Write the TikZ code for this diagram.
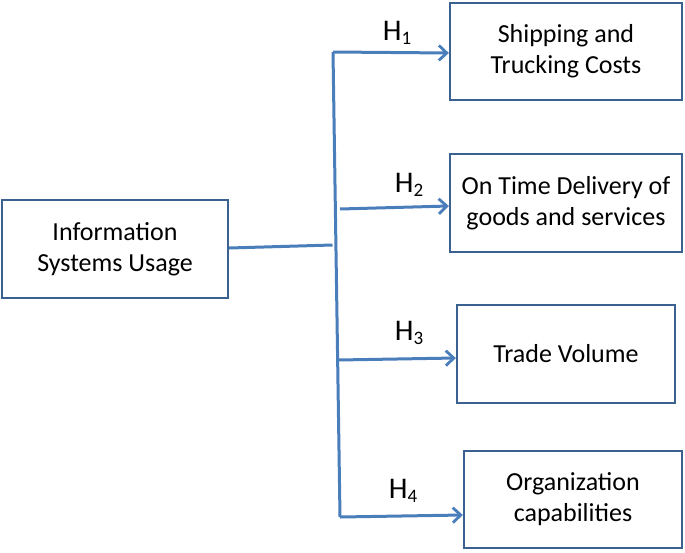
\documentclass[tikz,border=0pt]{standalone}
\usepackage{fontspec}
\setmainfont{Carlito}
\usetikzlibrary{arrows.meta}
\definecolor{boxblue}{HTML}{3A6190}
\definecolor{linkblue}{HTML}{4A7EBB}
\tikzset{
  box/.style={draw=boxblue, line width=2.3pt, fill=white, inner sep=0pt, align=center,
    font=\fontsize{26}{31}\selectfont},
  link/.style={draw=linkblue, line width=3pt},
  arr/.style={link, -{Straight Barb[length=8pt,width=15pt,line width=2.8pt]}},
  hlab/.style={font=\fontsize{30}{32}\selectfont, inner sep=0pt}
}
\newcommand{\hyp}[1]{H\raisebox{-0.3ex}{\fontsize{19}{19}\selectfont #1}}
\begin{document}
\begin{tikzpicture}[x=1pt,y=-1pt]
\useasboundingbox (0,0) rectangle (685,552);
\node[box, minimum width=226pt, minimum height=98pt] (isu) at (115,249) {Information\\Systems Usage};
\node[box, minimum width=232pt, minimum height=97pt] (b1) at (566,51.5) {Shipping and\\Trucking Costs};
\node[box, minimum width=232pt, minimum height=98pt] (b2) at (566,203) {On Time Delivery of\\goods and services};
\node[box, minimum width=218pt, minimum height=98pt] (b3) at (566,354) {Trade Volume};
\node[box, minimum width=218pt, minimum height=97pt] (b4) at (573,499.5) {Organization\\capabilities};
\coordinate (top) at (333,52);
\coordinate (bot) at (340,517);
\coordinate (join) at (332.5,245);
\coordinate (s2) at (340,209);
\coordinate (s3) at (338,360);
\draw[link] (isu.east |- 0,248) -- (join);
\draw[link] (bot) -- (top);
\draw[arr] (top) -- (b1.west |- 0,53);
\draw[arr] (s2) -- (b2.west |- 0,206);
\draw[arr] (s3) -- (b3.west |- 0,358);
\draw[arr] (bot) -- (b4.west |- 0,515);
\node[hlab] (h1) at (397,33) {\hyp{1}};
\node[hlab] (h2) at (409,185) {\hyp{2}};
\node[hlab] (h3) at (409,333) {\hyp{3}};
\node[hlab] (h4) at (403,491) {\hyp{4}};
\end{tikzpicture}
\end{document}
